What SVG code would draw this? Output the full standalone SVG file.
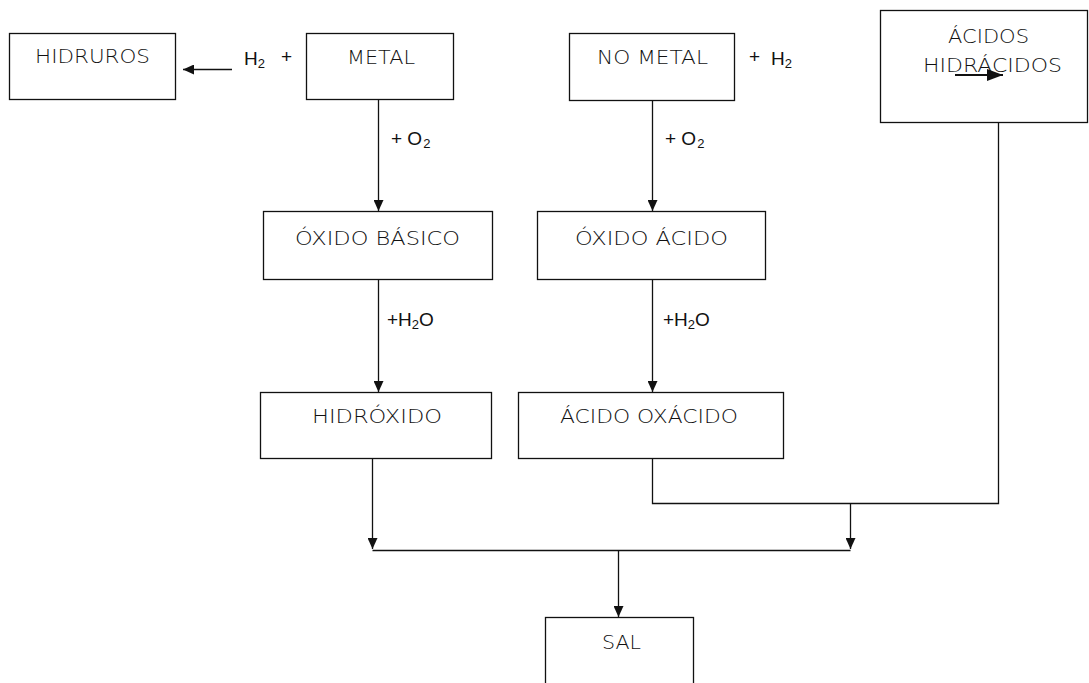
<svg xmlns="http://www.w3.org/2000/svg" width="1089" height="683" viewBox="0 0 1089 683">
<style>
  .box { fill: #fff; stroke: #111; stroke-width: 1.3; }
  .bt { font-family: "DejaVu Sans", "Liberation Sans", sans-serif; font-weight: 200; font-size: 19px; fill: #111; }
  .lb { font-family: "Liberation Sans", Arial, sans-serif; font-size: 19px; fill: #111; }
  .ln { fill: none; stroke: #111; stroke-width: 1.3; }
  .ar { fill: none; stroke: #111; stroke-width: 1.3; marker-end: url(#ah); }
</style>
<defs>
  <marker id="ah" markerUnits="userSpaceOnUse" markerWidth="11" markerHeight="10" refX="11" refY="5" orient="auto">
    <path d="M0,0 L11,5 L0,10 Z" fill="#111"/>
  </marker>
  <marker id="ah2" markerUnits="userSpaceOnUse" markerWidth="16" markerHeight="12" refX="16" refY="6" orient="auto">
    <path d="M0,0 L16,6 L0,12 Z" fill="#111"/>
  </marker>
</defs>
<rect width="1089" height="683" fill="#fff"/>

<g id="connectors">
  <line class="ar" x1="232" y1="69.5" x2="183" y2="69.5"/>
  <line class="ar" x1="378.5" y1="100" x2="378.5" y2="211"/>
  <line class="ar" x1="652.5" y1="101" x2="652.5" y2="211"/>
  <line class="ar" x1="378.5" y1="280" x2="378.5" y2="392"/>
  <line class="ar" x1="652.5" y1="280" x2="652.5" y2="392"/>
  <line class="ar" x1="372.5" y1="459" x2="372.5" y2="549"/>
  <polyline class="ln" points="652.5,459 652.5,503.5 998.5,503.5 998.5,123"/>
  <line class="ar" x1="850.5" y1="503.5" x2="850.5" y2="549"/>
  <line class="ln" x1="372.5" y1="550.5" x2="850.5" y2="550.5"/>
  <line class="ar" x1="618.5" y1="550.5" x2="618.5" y2="617"/>
</g>

<g id="hidruros">
  <rect class="box" x="9.5" y="33.5" width="166" height="66"/>
  <text class="bt" x="35" y="63" textLength="115" lengthAdjust="spacingAndGlyphs">HIDRUROS</text>
</g>
<g id="h2-metal">
  <text class="lb" x="244" y="65">H<tspan dy="3" font-size="13">2</tspan></text>
  <text class="lb" x="281" y="63">+</text>
</g>
<g id="metal">
  <rect class="box" x="306.5" y="33.5" width="147" height="66"/>
  <text class="bt" x="347" y="64" textLength="68" lengthAdjust="spacingAndGlyphs">METAL</text>
</g>
<g id="no-metal">
  <rect class="box" x="569.5" y="33.5" width="165" height="67"/>
  <text class="bt" x="597" y="64" textLength="111" lengthAdjust="spacingAndGlyphs">NO METAL</text>
</g>
<g id="h2-nometal">
  <text class="lb" x="749" y="63">+</text>
  <text class="lb" x="771" y="65">H<tspan dy="3" font-size="13">2</tspan></text>
</g>
<g id="acidos-hidracidos">
  <rect class="box" x="880.5" y="10.5" width="207" height="112"/>
  <text class="bt" x="948" y="43" textLength="81" lengthAdjust="spacingAndGlyphs">ÁCIDOS</text>
  <text class="bt" x="923" y="72" textLength="139" lengthAdjust="spacingAndGlyphs">HIDRÁCIDOS</text>
  <line x1="955" y1="75" x2="1003" y2="75" stroke="#111" stroke-width="2" marker-end="url(#ah2)"/>
</g>
<g id="o2-labels">
  <text class="lb" x="391" y="145">+ O<tspan dx="1" dy="3" font-size="13">2</tspan></text>
  <text class="lb" x="665" y="145">+ O<tspan dx="1" dy="3" font-size="13">2</tspan></text>
</g>
<g id="oxido-basico">
  <rect class="box" x="263.5" y="211.5" width="229" height="68"/>
  <text class="bt" x="295" y="245" textLength="165" lengthAdjust="spacingAndGlyphs">ÓXIDO BÁSICO</text>
</g>
<g id="oxido-acido">
  <rect class="box" x="537.5" y="211.5" width="228" height="68"/>
  <text class="bt" x="575" y="245" textLength="153" lengthAdjust="spacingAndGlyphs">ÓXIDO ÁCIDO</text>
</g>
<g id="h2o-labels">
  <text class="lb" x="387" y="326">+H<tspan dy="3" font-size="13">2</tspan><tspan dy="-3">O</tspan></text>
  <text class="lb" x="663" y="326">+H<tspan dy="3" font-size="13">2</tspan><tspan dy="-3">O</tspan></text>
</g>
<g id="hidroxido">
  <rect class="box" x="260.5" y="392.5" width="231" height="66"/>
  <text class="bt" x="312" y="423" textLength="130" lengthAdjust="spacingAndGlyphs">HIDRÓXIDO</text>
</g>
<g id="acido-oxacido">
  <rect class="box" x="518.5" y="392.5" width="265" height="66"/>
  <text class="bt" x="560" y="423" textLength="178" lengthAdjust="spacingAndGlyphs">ÁCIDO OXÁCIDO</text>
</g>
<g id="sal">
  <rect class="box" x="545.5" y="617.5" width="148" height="80"/>
  <text class="bt" x="602" y="649" textLength="39" lengthAdjust="spacingAndGlyphs">SAL</text>
</g>
</svg>
